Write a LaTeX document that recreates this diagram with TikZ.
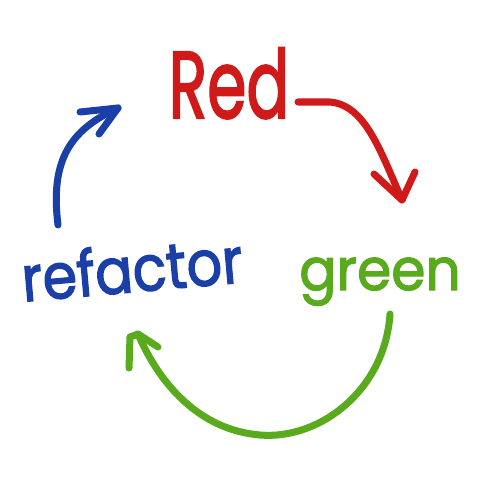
\documentclass[tikz,border=0pt]{standalone}
\usepackage{fontspec}
\newfontfamily\hand{Poppins}[FakeBold=2.2]
\definecolor{hred}{HTML}{D01A1A}
\definecolor{hgreen}{HTML}{5AAA1E}
\definecolor{hblue}{HTML}{1A40A8}
\tikzset{
  stroke/.style={line width=4pt, line cap=round, line join=round},
  word/.style={inner sep=0pt}
}
\begin{document}
\begin{tikzpicture}[x=0.02cm,y=-0.02cm]
\useasboundingbox (0,0) rectangle (500,500);
\node[word, text=hred, anchor=base] (red) at (229,118) {\scalebox{0.72}[1.08]{\hand\fontsize{50}{50}\selectfont Red}};
\node[word, text=hgreen, anchor=base] (green) at (380,290) {\scalebox{0.95}[1]{\hand\fontsize{33}{33}\selectfont green}};
\node[word, text=hblue, anchor=base, rotate=5] (refactor) at (134,292) {\scalebox{0.88}[1]{\hand\fontsize{36}{36}\selectfont refactor}};
% red arrow
\coordinate (r1) at (298,102);
\coordinate (r2) at (402,200);
\draw[stroke, hred] (r1) -- (330,102) .. controls (365,105) and (380,150) .. (r2);
\draw[stroke, hred] (374,174) -- (r2) -- (415,172);
% green arrow
\coordinate (g1) at (390,314);
\coordinate (g2) at (138,334);
\draw[stroke, hgreen] (g1) .. controls (385,390) and (320,440) .. (260,435)
  .. controls (200,430) and (160,385) .. (g2);
\draw[stroke, hgreen] (129,368) -- (130,337) -- (g2) -- (158,347);
% blue arrow
\coordinate (b1) at (58,225);
\coordinate (b2) at (118,108);
\draw[stroke, hblue] (b1) .. controls (50,160) and (70,130) .. (b2);
\draw[stroke, hblue] (80,112) -- (b2) -- (99,134);
\end{tikzpicture}
\end{document}
